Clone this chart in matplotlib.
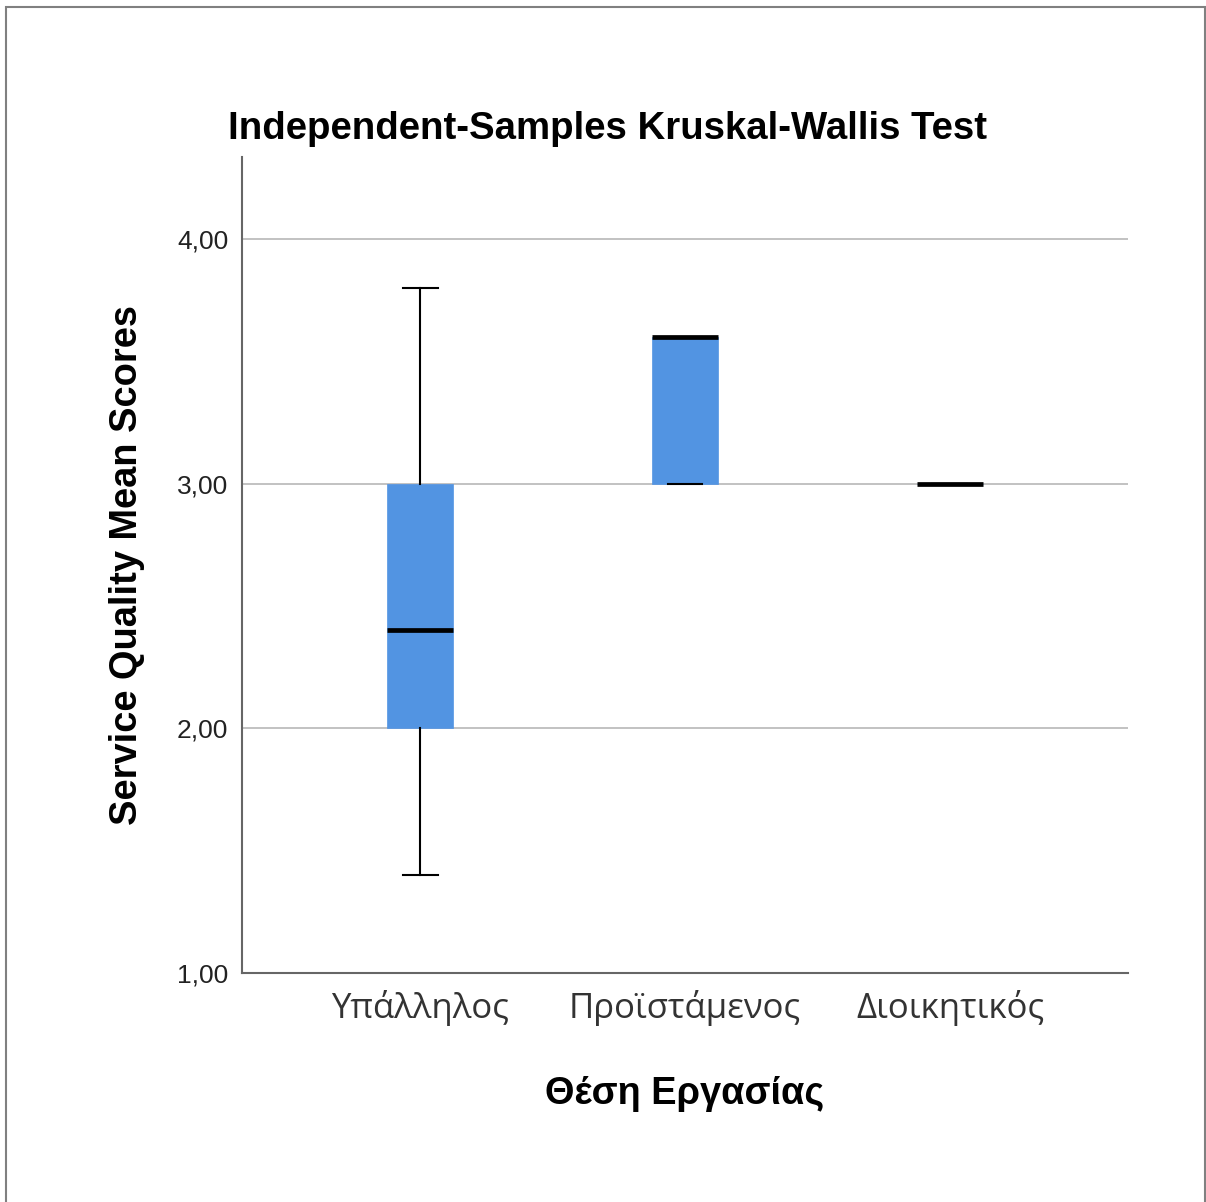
import matplotlib
matplotlib.use("Agg")
import matplotlib.pyplot as plt
from matplotlib.patches import Rectangle

# boxplot summary per job position
groups = ["Υπάλληλος", "Προϊστάμενος", "Διοικητικός"]
whislo = [1.4, 3.0, 3.0]
q1 = [2.0, 3.0, 3.0]
med = [2.4, 3.6, 3.0]
q3 = [3.0, 3.6, 3.0]
whishi = [3.8, 3.6, 3.0]
yticks = [1, 2, 3, 4]
ytick_labels = ["1,00", "2,00", "3,00", "4,00"]

stats = []
for i in range(len(groups)):
    stats.append({"label": groups[i], "whislo": whislo[i], "q1": q1[i],
                  "med": med[i], "q3": q3[i], "whishi": whishi[i], "fliers": []})

fig = plt.figure(figsize=(12.06, 12.02), dpi=100)
ax = fig.add_axes([0.2007, 0.1905, 0.7346, 0.6789])

ax.bxp(stats, positions=range(len(groups)), widths=0.25, patch_artist=True,
       showfliers=False, capwidths=0.132,
       boxprops=dict(facecolor="#5294e2", edgecolor="#5294e2", linewidth=0.5),
       medianprops=dict(color="black", linewidth=3.4),
       whiskerprops=dict(color="black", linewidth=1.5),
       capprops=dict(color="black", linewidth=1.5))

ax.set_xlim(-0.672, 2.672)
ax.set_ylim(1, 4.335)
ax.set_yticks(yticks)
ax.set_yticklabels(ytick_labels, family="Liberation Sans", fontsize=19, color="#222222")
ax.set_xticks(range(len(groups)))
ax.set_xticklabels(groups, family="Open Sans", fontsize=25, color="#333333")
ax.tick_params(length=0)
ax.tick_params(axis="y", pad=10)
ax.tick_params(axis="x", pad=12)

ax.grid(axis="y", color="#bdbdbd", linewidth=1.3)
ax.set_axisbelow(True)
for s in ["top", "right"]:
    ax.spines[s].set_visible(False)
for s in ["left", "bottom"]:
    ax.spines[s].set_color("#666666")
    ax.spines[s].set_linewidth(1.5)

ax.set_ylabel("Service Quality Mean Scores", family="Liberation Sans",
              fontsize=27.4, fontweight="bold", labelpad=23)
ax.set_xlabel("Θέση Εργασίας", family="Liberation Sans",
              fontsize=27.4, fontweight="bold", labelpad=36)
fig.text(0.504, 0.893, "Independent-Samples Kruskal-Wallis Test",
         family="Liberation Sans", fontsize=27.6, fontweight="bold",
         ha="center", va="center")

# outer frame
fig.patches.append(Rectangle((6 / 1206, -0.01), 1199 / 1206, 1 - 7 / 1202 + 0.01,
                             transform=fig.transFigure, fill=False,
                             edgecolor="#808080", linewidth=1.5))

fig.savefig("out.png", dpi=100)
